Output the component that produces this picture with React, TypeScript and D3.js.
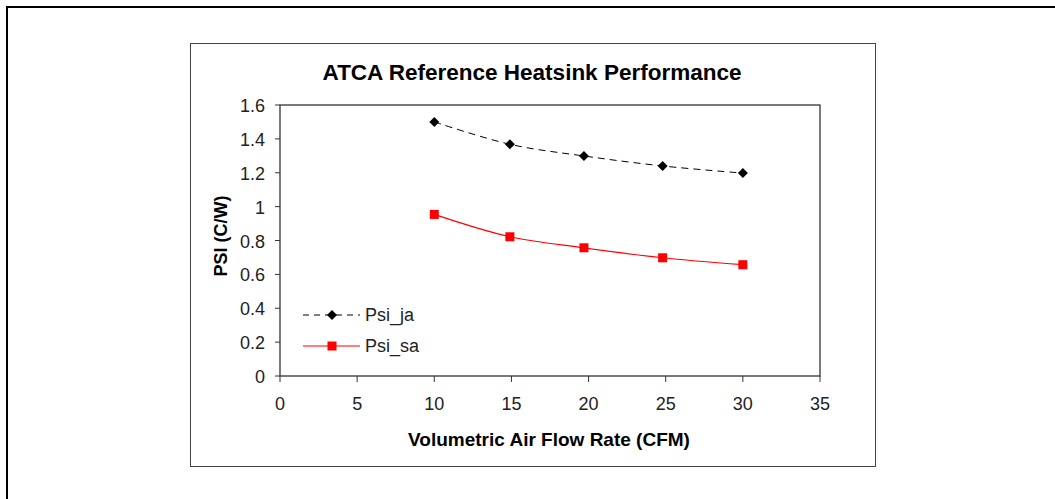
import * as d3 from "d3";

// airflow (CFM)
const flowJa = [10, 14.9, 19.7, 24.8, 30];
const psiJa = [1.5, 1.368, 1.299, 1.24, 1.198];
const flowSa = [10, 14.9, 19.7, 24.8, 30];
const psiSa = [0.954, 0.822, 0.757, 0.698, 0.657];

const xTicks = [0, 5, 10, 15, 20, 25, 30, 35];
const yTicks = [0, 0.2, 0.4, 0.6, 0.8, 1, 1.2, 1.4, 1.6];

const FONT = "'Liberation Sans', Arial, sans-serif";

export default function App() {
  const width = 1055;
  const height = 499;

  // plot area
  const left = 280;
  const right = 820;
  const top = 105;
  const bottom = 376;

  const x = d3.scaleLinear().domain([0, 35]).range([left, right]);
  const y = d3.scaleLinear().domain([0, 1.6]).range([bottom, top]);

  const line = d3
    .line<[number, number]>()
    .x(d => x(d[0]))
    .y(d => y(d[1]))
    .curve(d3.curveCatmullRom.alpha(0.5));

  const ja = flowJa.map((f, i) => [f, psiJa[i]] as [number, number]);
  const sa = flowSa.map((f, i) => [f, psiSa[i]] as [number, number]);

  const diamond = (cx: number, cy: number, r = 5) =>
    `M${cx},${cy - r}L${cx + r},${cy}L${cx},${cy + r}L${cx - r},${cy}Z`;

  return (
    <svg
      width={width}
      height={height}
      style={{ position: "absolute", left: 0, top: 0, background: "#fff" }}
    >
      {/* outer page border */}
      <line x1={6} x2={width} y1={7} y2={7} stroke="#000" strokeWidth={2} />
      <line x1={7} x2={7} y1={6} y2={height} stroke="#000" strokeWidth={2} />

      {/* chart frame */}
      <rect x={190.5} y={43.5} width={685} height={423} fill="#fff" stroke="#444" strokeWidth={1} />

      <text
        x={532}
        y={80}
        textAnchor="middle"
        fontFamily={FONT}
        fontWeight="bold"
        fontSize={22.5}
        fill="#000"
      >
        ATCA Reference Heatsink Performance
      </text>

      {/* plot box */}
      <rect
        x={left}
        y={top}
        width={right - left}
        height={bottom - top}
        fill="none"
        stroke="#333"
        strokeWidth={1.3}
      />

      {/* y ticks */}
      {yTicks.map(t => (
        <g key={t}>
          <line x1={left - 5} x2={left} y1={y(t)} y2={y(t)} stroke="#333" />
          <text
            x={265}
            y={y(t) + 7}
            textAnchor="end"
            fontFamily={FONT}
            fontSize={18}
            fill="#222"
          >
            {t}
          </text>
        </g>
      ))}

      {/* x ticks */}
      {xTicks.map(t => (
        <g key={t}>
          <line x1={x(t)} x2={x(t)} y1={bottom} y2={bottom + 6} stroke="#333" />
          <text
            x={x(t)}
            y={bottom + 34}
            textAnchor="middle"
            fontFamily={FONT}
            fontSize={18}
            fill="#222"
          >
            {t}
          </text>
        </g>
      ))}

      <text
        x={549}
        y={446}
        textAnchor="middle"
        fontFamily={FONT}
        fontWeight="bold"
        fontSize={19}
        fill="#000"
      >
        Volumetric Air Flow Rate (CFM)
      </text>
      <text
        transform={`translate(227,236) rotate(-90)`}
        textAnchor="middle"
        fontFamily={FONT}
        fontWeight="bold"
        fontSize={18}
        fill="#000"
      >
        PSI (C/W)
      </text>

      {/* series */}
      <path d={line(ja) ?? ""} fill="none" stroke="#000" strokeWidth={1} strokeDasharray="7,5" />
      {ja.map((d, i) => (
        <path key={i} d={diamond(x(d[0]), y(d[1]))} fill="#000" />
      ))}
      <path d={line(sa) ?? ""} fill="none" stroke="#ff0000" strokeWidth={1.2} />
      {sa.map((d, i) => (
        <rect key={i} x={x(d[0]) - 4.5} y={y(d[1]) - 4.5} width={9} height={9} fill="#ff0000" />
      ))}

      {/* legend */}
      <line x1={303} x2={360} y1={315} y2={315} stroke="#000" strokeDasharray="6,5" />
      <path d={diamond(332, 315)} fill="#000" />
      <text x={365} y={321} fontFamily={FONT} fontSize={18} fill="#222">
        Psi_ja
      </text>
      <line x1={303} x2={360} y1={346} y2={346} stroke="#ff0000" strokeWidth={1.2} />
      <rect x={327.5} y={341.5} width={9} height={9} fill="#ff0000" />
      <text x={365} y={352} fontFamily={FONT} fontSize={18} fill="#222">
        Psi_sa
      </text>
    </svg>
  );
}
